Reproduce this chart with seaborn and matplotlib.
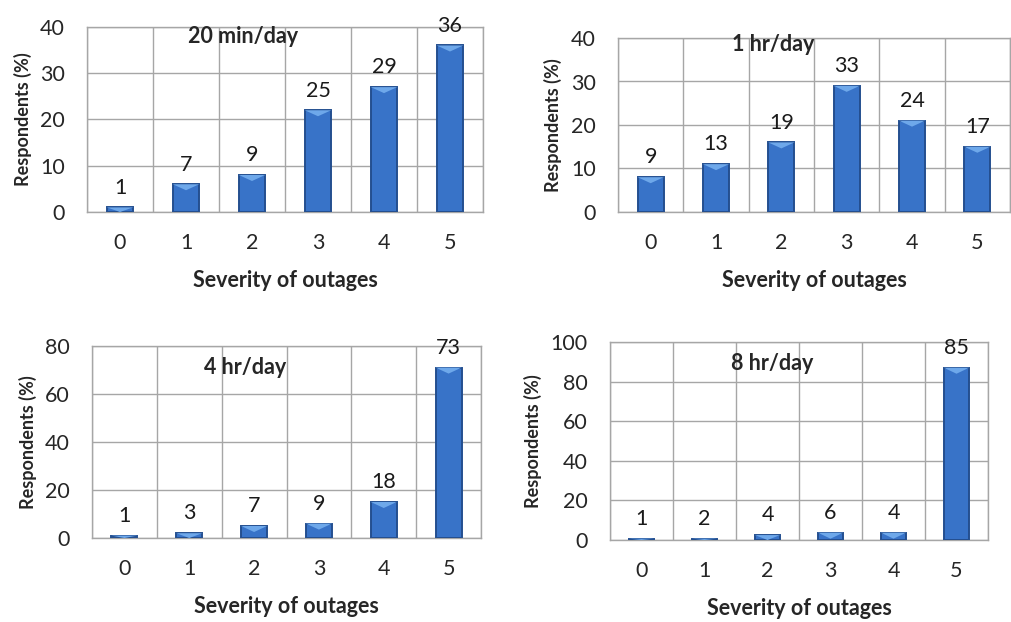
import matplotlib
matplotlib.use("Agg")
import matplotlib.pyplot as plt
from matplotlib.patches import Polygon
import seaborn as sns
import pandas as pd

# severity categories shared by all panels
severity = ["0", "1", "2", "3", "4", "5"]

# panel titles
titles = ["20 min/day", "1 hr/day", "4 hr/day", "8 hr/day"]

# bar heights as drawn in the reference
bars_20min = [1, 6, 8, 22, 27, 36]
bars_1hr = [8, 11, 16, 29, 21, 15]
bars_4hr = [1, 2, 5, 6, 15, 71]
bars_8hr = [0.7, 0.7, 2.5, 3.7, 3.7, 87]

# value labels printed above the bars
labels_20min = ["1", "7", "9", "25", "29", "36"]
labels_1hr = ["9", "13", "19", "33", "24", "17"]
labels_4hr = ["1", "3", "7", "9", "18", "73"]
labels_8hr = ["1", "2", "4", "6", "4", "85"]

# y axis upper limits and tick steps
y_max = [40, 40, 80, 100]
y_step = [10, 10, 20, 20]

BAR_COLOR = "#3873c8"
EDGE_COLOR = "#244f8f"
CAP_COLOR = "#6ea8ea"
GRID_COLOR = "#a6a6a6"
FONT = ["Lato", "DejaVu Sans"]

W, H = 1011, 622
# axes boxes in pixels: left, top, right, bottom
boxes = [
    (87, 27, 483, 212),
    (618, 38, 1010, 212),
    (92, 346, 481, 538),
    (610, 342, 988, 540),
]
ylabel_off = [55, 56, 55, 68]
title_pos = [(1.86, 38), (1.87, 38.4), (1.86, 71), (2.07, 89)]


def add_caps(ax, h_px, ymax):
    # lighter bevel on top of every bar, like the Excel 3D look
    d = 6 * ymax / h_px
    for p in ax.containers[0]:
        x0 = p.get_x()
        x1 = x0 + p.get_width()
        top = p.get_height()
        dd = min(d, top)
        tri = Polygon([(x0, top), (x1, top), ((x0 + x1) / 2, top - dd)],
                      closed=True, facecolor=CAP_COLOR, edgecolor="none",
                      zorder=3.5)
        ax.add_patch(tri)


def draw_panel(ax, values, labels, title, ymax, step, ylab_px, tpos, box):
    w_px = box[2] - box[0]
    h_px = box[3] - box[1]
    df = pd.DataFrame({"severity": severity, "pct": values})
    sns.barplot(data=df, x="severity", y="pct", ax=ax, color=BAR_COLOR,
                width=0.4, edgecolor=EDGE_COLOR, linewidth=1.4,
                saturation=1, zorder=3)
    add_caps(ax, h_px, ymax)
    ax.bar_label(ax.containers[0], labels=labels, padding=7,
                 fontsize=15.5, color="#1a1a1a", family=FONT)
    ax.set_xlim(-0.5, 5.5)
    ax.set_ylim(0, ymax)
    ax.set_yticks(range(0, ymax + 1, step))
    ax.set_xticks(range(len(severity)))
    ax.set_xticks([i - 0.5 for i in range(len(severity) + 1)], minor=True)
    ax.grid(False)
    ax.grid(True, which="major", axis="y", color=GRID_COLOR, lw=1, zorder=0)
    ax.grid(True, which="minor", axis="x", color=GRID_COLOR, lw=1, zorder=0)
    ax.tick_params(axis="x", which="major", length=0, pad=15, labelsize=15.5)
    ax.tick_params(axis="x", which="minor", length=6, color=GRID_COLOR, width=1)
    ax.tick_params(axis="y", length=5, color=GRID_COLOR, width=1, pad=11,
                   labelsize=15.5)
    for lab in ax.get_xticklabels() + ax.get_yticklabels():
        lab.set_family(FONT)
    for sp in ax.spines.values():
        sp.set_visible(True)
        sp.set_color(GRID_COLOR)
        sp.set_linewidth(1)
    ax.set_facecolor("white")
    ax.set_ylabel("Respondents (%)", fontsize=13, fontweight="bold",
                  family=FONT)
    ax.yaxis.set_label_coords(-ylab_px / w_px, 0.5)
    ax.set_xlabel("Severity of outages", fontsize=15.5, fontweight="bold",
                  family=FONT)
    ax.xaxis.set_label_coords(0.5, -58 / h_px)
    ax.text(tpos[0], tpos[1], title, ha="center", va="center", fontsize=15.5,
            fontweight="bold", family=FONT, zorder=4)


def main():
    sns.set_theme(style="white")
    plt.rcParams["font.family"] = FONT
    fig = plt.figure(figsize=(W / 100, H / 100), dpi=100)
    fig.patch.set_facecolor("white")
    all_values = [bars_20min, bars_1hr, bars_4hr, bars_8hr]
    all_labels = [labels_20min, labels_1hr, labels_4hr, labels_8hr]
    for i, box in enumerate(boxes):
        l, t, r, b = box
        ax = fig.add_axes([l / W, 1 - b / H, (r - l) / W, (b - t) / H])
        draw_panel(ax, all_values[i], all_labels[i], titles[i], y_max[i],
                   y_step[i], ylabel_off[i], title_pos[i], box)
    fig.savefig("out.png", dpi=100, facecolor="white")


if __name__ == "__main__":
    main()
